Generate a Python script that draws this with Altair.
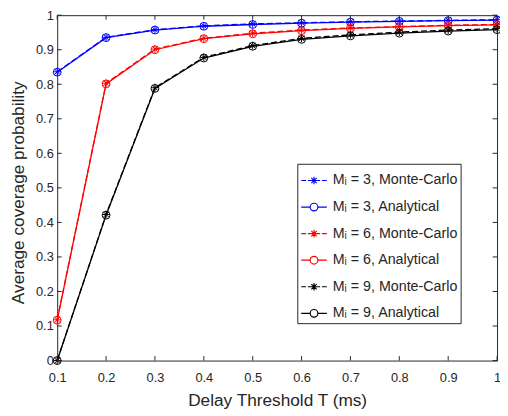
import altair as alt
import pandas as pd

# ---- data ----
T = [0.1, 0.2, 0.3, 0.4, 0.5, 0.6, 0.7, 0.8, 0.9, 1.0]
mc_m3 = [0.836, 0.936, 0.958, 0.969, 0.975, 0.978, 0.981, 0.983, 0.985, 0.987]
an_m3 = [0.835, 0.935, 0.957, 0.968, 0.973, 0.977, 0.980, 0.982, 0.984, 0.986]
mc_m6 = [0.118, 0.803, 0.902, 0.933, 0.948, 0.957, 0.963, 0.967, 0.971, 0.973]
an_m6 = [0.117, 0.801, 0.900, 0.932, 0.946, 0.955, 0.962, 0.966, 0.970, 0.972]
mc_m9 = [0.000, 0.423, 0.790, 0.878, 0.912, 0.933, 0.943, 0.951, 0.957, 0.961]
an_m9 = [0.000, 0.421, 0.788, 0.876, 0.910, 0.930, 0.940, 0.948, 0.954, 0.958]

series_labels = [
    "M\u1d62 = 3, Monte-Carlo",
    "M\u1d62 = 3, Analytical",
    "M\u1d62 = 6, Monte-Carlo",
    "M\u1d62 = 6, Analytical",
    "M\u1d62 = 9, Monte-Carlo",
    "M\u1d62 = 9, Analytical",
]
series_values = [mc_m3, an_m3, mc_m6, an_m6, mc_m9, an_m9]
series_colors = ["#0000ff", "#0000ff", "#ff0000", "#ff0000", "#000000", "#000000"]
series_kind = ["mc", "an", "mc", "an", "mc", "an"]

x_ticks = [0.1, 0.2, 0.3, 0.4, 0.5, 0.6, 0.7, 0.8, 0.9, 1.0]
y_ticks = [0.0, 0.1, 0.2, 0.3, 0.4, 0.5, 0.6, 0.7, 0.8, 0.9, 1.0]

# ---- styling ----
W, H = 447, 351
FONT = "Liberation Sans"
TXT = "#262626"
TICK = 4.5

ASTERISK = "M0,-1V1M-1,0H1M-0.7,-0.7L0.7,0.7M-0.7,0.7L0.7,-0.7"
LEG_MC = ("M-1,0H-0.62M-0.48,0H-0.3M0.3,0H0.48M0.62,0H1"
          "M0,-0.3V0.3M-0.3,0H0.3M-0.21,-0.21L0.21,0.21M-0.21,0.21L0.21,-0.21")
LEG_AN = ("M-1,0H-0.3M0.3,0H1"
          "M0.3,0A0.3,0.3 0 1,1 -0.3,0A0.3,0.3 0 1,1 0.3,0")
legend_paths = [LEG_MC if k == "mc" else LEG_AN for k in series_kind]

xs = alt.Scale(domain=[0.1, 1.0], nice=False, zero=False)
ys = alt.Scale(domain=[0, 1], nice=False, zero=False)

x_axis = alt.Axis(
    title="Delay Threshold T (ms)", values=x_ticks, format="~g",
    labelPadding=11, titleY=46, titleBaseline="alphabetic",
)
y_axis = alt.Axis(
    title="Average coverage probability", values=y_ticks, format="~g",
    labelPadding=4, titleX=-34, titleY=180, titleBaseline="alphabetic",
)

layers = []
for lab, vals, col, kind in zip(series_labels, series_values, series_colors, series_kind):
    df = pd.DataFrame({"T": T, "p": vals, "series": lab})
    enc = dict(
        x=alt.X("T:Q", scale=xs, axis=x_axis),
        y=alt.Y("p:Q", scale=ys, axis=y_axis),
    )
    if kind == "mc":
        line = alt.Chart(df).mark_line(color=col, strokeWidth=1.3, strokeDash=[6, 3]).encode(**enc)
        pts = alt.Chart(df).mark_point(shape=ASTERISK, size=64, filled=False, color=col,
                                       strokeWidth=1, opacity=1).encode(**enc)
    else:
        line = alt.Chart(df).mark_line(color=col, strokeWidth=1.3).encode(**enc)
        pts = alt.Chart(df).mark_point(shape="circle", size=64, filled=False, color=col,
                                       strokeWidth=1, opacity=1).encode(**enc)
    layers += [line, pts]

# inward axis ticks (MATLAB style) on all four sides
xt = pd.DataFrame({"T": x_ticks})
yt = pd.DataFrame({"p": y_ticks})
xenc = alt.X("T:Q", scale=xs, axis=x_axis)
yenc = alt.Y("p:Q", scale=ys, axis=y_axis)
layers.append(alt.Chart(xt).mark_rule(color=TXT, strokeWidth=1).encode(
    x=xenc, y=alt.value(H), y2=alt.value(H - TICK)))
layers.append(alt.Chart(xt).mark_rule(color=TXT, strokeWidth=1).encode(
    x=xenc, y=alt.value(0), y2=alt.value(TICK)))
layers.append(alt.Chart(yt).mark_rule(color=TXT, strokeWidth=1).encode(
    y=yenc, x=alt.value(0), x2=alt.value(TICK)))
layers.append(alt.Chart(yt).mark_rule(color=TXT, strokeWidth=1).encode(
    y=yenc, x=alt.value(W), x2=alt.value(W - TICK)))

# legend-only layer (no marks drawn)
leg = alt.Legend(title=None, orient="none", legendX=244, legendY=151)
legend_df = pd.DataFrame({"series": series_labels})
legend_layer = alt.Chart(legend_df).transform_filter("false").mark_point(filled=False).encode(
    stroke=alt.Stroke("series:N", scale=alt.Scale(domain=series_labels, range=series_colors), legend=leg),
    shape=alt.Shape("series:N", scale=alt.Scale(domain=series_labels, range=legend_paths), legend=leg),
)
layers.append(legend_layer)

chart = alt.layer(*layers).properties(
    width=W, height=H,
    autosize=alt.AutoSizeParams(type="none"),
    padding={"left": 50, "top": 4, "right": 3, "bottom": 51},
).configure_view(
    stroke=TXT, strokeWidth=1,
).configure_axis(
    grid=False, ticks=False, domain=False, labelFlush=False, labelOverlap=False,
    labelFont=FONT, labelFontSize=13, labelColor=TXT,
    titleFont=FONT, titleFontSize=17.5, titleColor=TXT, titleFontWeight="normal",
).configure_legend(
    labelFont=FONT, labelFontSize=14.5, labelColor=TXT, labelOffset=5, labelLimit=300,
    symbolSize=676, symbolStrokeWidth=1.2, symbolOpacity=1,
    rowPadding=6, padding=3, strokeColor=TXT, fillColor="white", cornerRadius=0,
)

chart.save("out.html", embed_options={"renderer": "svg", "actions": False})
